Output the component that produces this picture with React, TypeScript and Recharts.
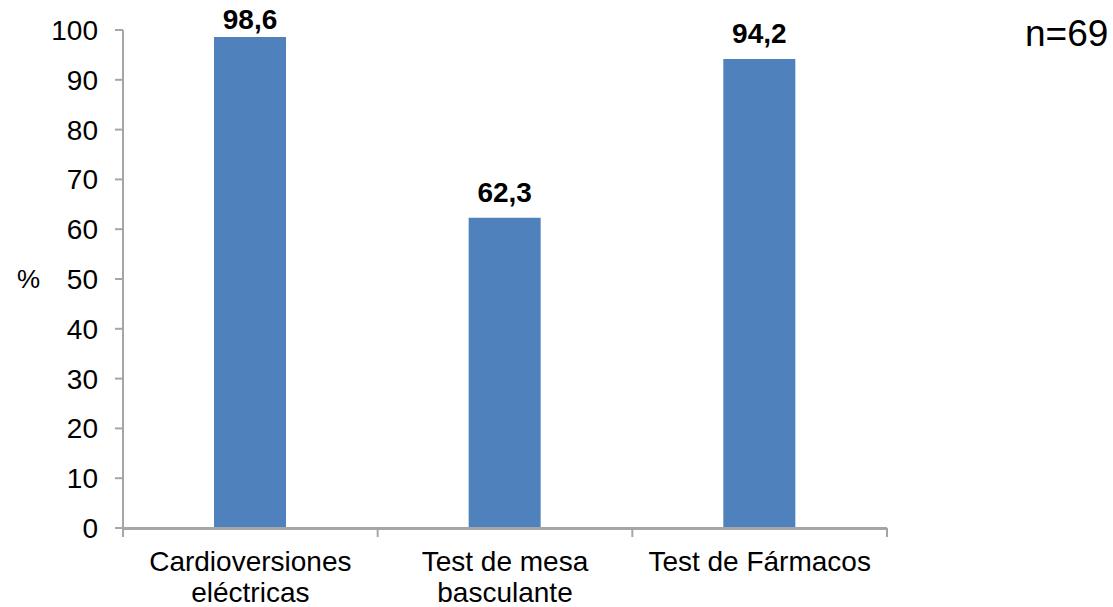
import React from 'react';
import { BarChart, Bar, XAxis, YAxis, LabelList } from 'recharts';

const categories = ['Cardioversiones eléctricas', 'Test de mesa basculante', 'Test de Fármacos'];
const tickLines = [['Cardioversiones', 'eléctricas'], ['Test de mesa', 'basculante'], ['Test de Fármacos']];
const values = [98.6, 62.3, 94.2];
const yTicks = [0, 10, 20, 30, 40, 50, 60, 70, 80, 90, 100];
const edgeTicks = [0, 1, 2, 3];

const FONT = '"Liberation Sans", Arial, sans-serif';
const AXIS_GREY = '#A6A6A6';

const data = categories.map((name, i) => ({ name, value: values[i], slot: i + 0.5 }));

const CategoryTick = (props: any) => {
  const { x, y, index } = props;
  const lines = tickLines[index] || [props.payload.value];
  return (
    <text x={x} y={y} textAnchor="middle" fill="#000" fontFamily={FONT} fontSize={28}>
      {lines.map((line, i) => (
        <tspan key={i} x={x} y={y + 42 + i * 31}>{line}</tspan>
      ))}
    </text>
  );
};

// value label above the bar, kept inside the top edge like the original
const ValueLabel = (props: any) => {
  const { x, y, width, value } = props;
  const baseline = Math.max(y - 16, 29);
  return (
    <text x={x + width / 2} y={baseline} textAnchor="middle" fill="#000" fontFamily={FONT} fontSize={28} fontWeight="bold">
      {String(value).replace('.', ',')}
    </text>
  );
};

const App: React.FC = () => {
  return (
    <div style={{ position: 'absolute', left: 0, top: 0, width: 1113, height: 607, background: '#fff' }}>
      <BarChart
        width={1113}
        height={607}
        data={data}
        margin={{ top: 30, right: 226, bottom: 0, left: 0 }}
        barSize={72}
      >
        <XAxis
          xAxisId="b_cat"
          dataKey="name"
          height={78}
          axisLine={{ stroke: AXIS_GREY, strokeWidth: 2 }}
          tickLine={false}
          tickSize={0}
          tickMargin={0}
          interval={0}
          tick={<CategoryTick />}
        />
        <XAxis
          xAxisId="a_edge"
          dataKey="slot"
          type="number"
          domain={[0, 3]}
          ticks={edgeTicks}
          allowDataOverflow
          height={1}
          axisLine={{ stroke: AXIS_GREY, strokeWidth: 2 }}
          tickLine={{ stroke: AXIS_GREY, strokeWidth: 2 }}
          tickSize={9}
          tick={() => <g />}
        />
        <YAxis
          width={123}
          domain={[0, 100]}
          ticks={yTicks}
          interval={0}
          axisLine={{ stroke: AXIS_GREY, strokeWidth: 2 }}
          tickLine={{ stroke: AXIS_GREY, strokeWidth: 2 }}
          tickSize={8}
          tickMargin={17}
          tick={{ fill: '#000', fontFamily: FONT, fontSize: 28 }}
          label={{ value: '%', position: 'insideLeft', offset: 17, fill: '#000', fontFamily: FONT, fontSize: 26 }}
        />
        <Bar xAxisId="b_cat" dataKey="value" fill="#4F81BD" isAnimationActive={false}>
          <LabelList dataKey="value" content={<ValueLabel />} />
        </Bar>
      </BarChart>
      <div style={{ position: 'absolute', left: 1025, top: 12, fontFamily: FONT, fontSize: 37, color: '#000', lineHeight: '44px' }}>
        n=69
      </div>
    </div>
  );
};

export default App;
